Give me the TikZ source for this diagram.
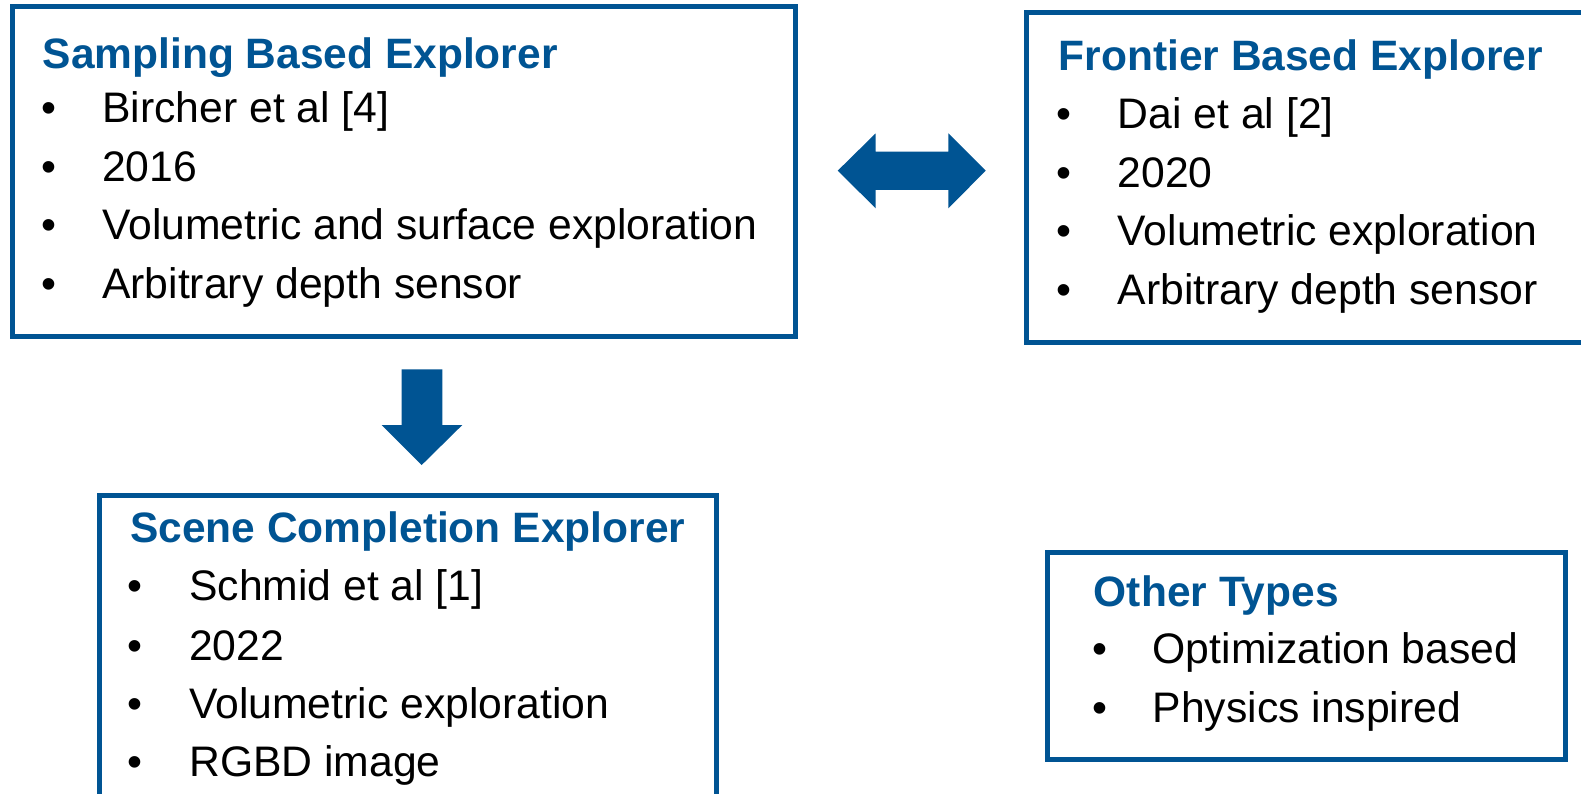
\documentclass[tikz,border=0pt]{standalone}
\usepackage{fontspec}
\setmainfont{Liberation Sans}
\definecolor{pblue}{RGB}{0,84,147}
\tikzset{
  boxline/.style={draw=pblue, line width=5pt, line join=miter},
  ttl/.style={anchor=base west, inner sep=0pt, text=pblue, font=\fontsize{42.5}{50}\selectfont\bfseries},
  itm/.style={anchor=base west, inner sep=0pt, text=black, font=\fontsize{42.7}{50}\selectfont},
  blockarrow/.style={fill=pblue, draw=none}
}
\begin{document}
\begin{tikzpicture}[x=1pt,y=-1pt]
\clip (0,0) rectangle (1581,794);
\fill[white] (0,0) rectangle (1581,794);
% boxes
\draw[boxline] (12.5,6.5) rectangle (795.5,336);
\draw[boxline] (1026,12.5) rectangle (1600,342.5);
\draw[boxline] (99.5,495.5) rectangle (716,830);
\draw[boxline] (1047.5,552.5) rectangle (1565.3,759.6);
% box 1
\node[ttl] (t1) at (42.5,68.5) {Sampling Based Explorer};
\node[itm] (b11) at (41,123) {•};   \node[itm] (i11) at (102,123) {Bircher et al [4]};
\node[itm] (b12) at (41,181.5) {•}; \node[itm] (i12) at (102,181.5) {2016};
\node[itm] (b13) at (41,240) {•};   \node[itm] (i13) at (102,240) {Volumetric and surface exploration};
\node[itm] (b14) at (41,298.5) {•}; \node[itm] (i14) at (102,298.5) {Arbitrary depth sensor};
% box 2
\node[ttl] (t2) at (1058.5,71) {Frontier Based Explorer};
\node[itm] (b21) at (1056.3,128.5) {•}; \node[itm] (i21) at (1117.5,128.5) {Dai et al [2]};
\node[itm] (b22) at (1056.3,187.3) {•}; \node[itm] (i22) at (1117.5,187.3) {2020};
\node[itm] (b23) at (1056.3,246) {•};   \node[itm] (i23) at (1117.5,246) {Volumetric exploration};
\node[itm] (b24) at (1056.3,304.5) {•}; \node[itm] (i24) at (1117.5,304.5) {Arbitrary depth sensor};
% box 3
\node[ttl] (t3) at (130,542.7) {Scene Completion Explorer};
\node[itm] (b31) at (127.6,600.7) {•}; \node[itm] (i31) at (189,600.7) {Schmid et al [1]};
\node[itm] (b32) at (127.6,660) {•};   \node[itm] (i32) at (189,660) {2022};
\node[itm] (b33) at (127.6,718.3) {•}; \node[itm] (i33) at (189,718.3) {Volumetric exploration};
\node[itm] (b34) at (127.6,776.7) {•}; \node[itm] (i34) at (189,776.7) {RGBD image};
% box 4
\node[ttl] (t4) at (1093.7,606) {Other Types};
\node[itm] (b41) at (1092,663.3) {•}; \node[itm] (i41) at (1152.5,663.3) {Optimization based};
\node[itm] (b42) at (1092,722.3) {•}; \node[itm] (i42) at (1152.5,722.3) {Physics inspired};
% double arrow
\fill[blockarrow] (837.7,170.7) -- (875.7,133.3) -- (875.7,151.7) -- (948.3,151.7) -- (948.3,133.3)
  -- (985.7,170.7) -- (948.3,208.3) -- (948.3,190) -- (875.7,190) -- (875.7,208.3) -- cycle;
% down arrow
\fill[blockarrow] (401.7,369.3) -- (442.3,369.3) -- (442.3,425) -- (462.3,425) -- (421.7,465)
  -- (381.7,425) -- (401.7,425) -- cycle;
\end{tikzpicture}
\end{document}
